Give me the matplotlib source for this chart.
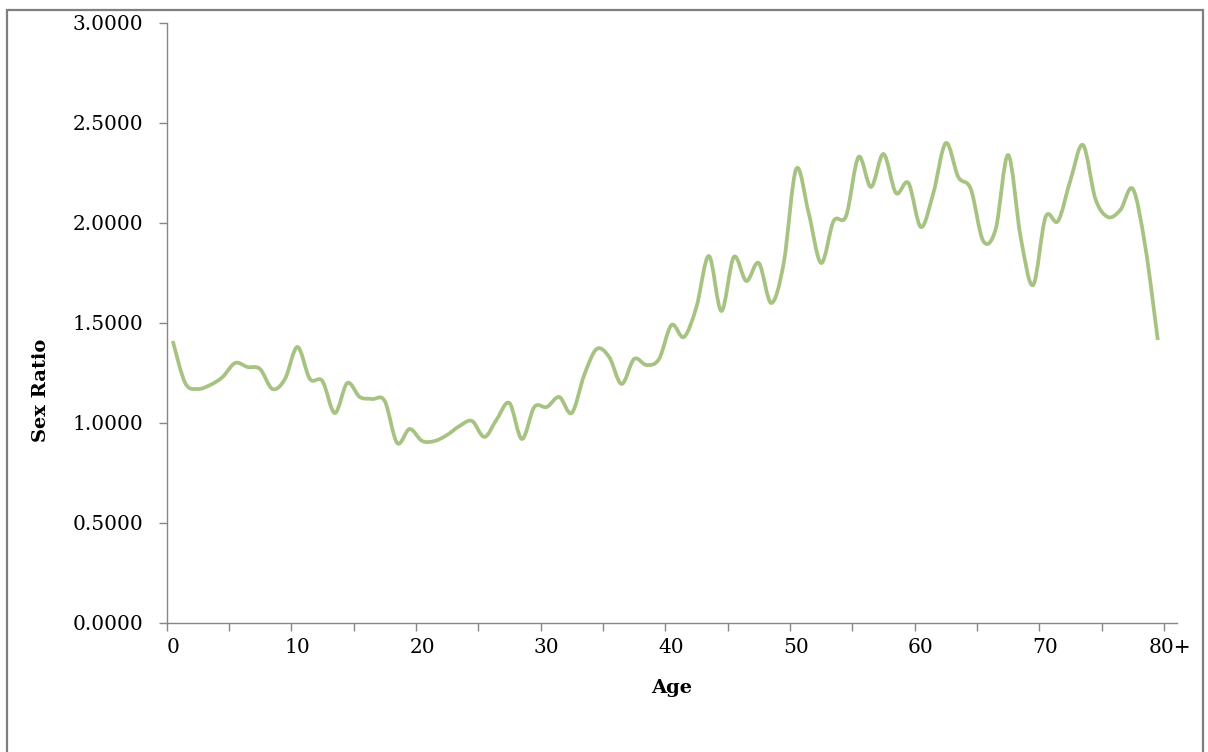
import matplotlib.pyplot as plt
from matplotlib.path import Path
from matplotlib.patches import PathPatch, Rectangle
import numpy as np

# Sex ratio by single year of age (0 .. 79), category "80+" has no point
ages = list(range(80))
sex_ratio = [1.41, 1.20, 1.17, 1.19, 1.23, 1.30, 1.28, 1.27, 1.17, 1.22,
             1.38, 1.22, 1.21, 1.05, 1.20, 1.13, 1.12, 1.11, 0.90, 0.97,
             0.91, 0.91, 0.94, 0.985, 1.01, 0.93, 1.02, 1.10, 0.92, 1.08,
             1.08, 1.13, 1.05, 1.24, 1.37, 1.33, 1.195, 1.32, 1.29, 1.32,
             1.49, 1.43, 1.58, 1.835, 1.56, 1.83, 1.71, 1.80, 1.60, 1.80,
             2.27, 2.05, 1.80, 2.01, 2.035, 2.33, 2.18, 2.345, 2.15, 2.20,
             1.98, 2.15, 2.40, 2.23, 2.17, 1.91, 1.97, 2.34, 1.93, 1.69,
             2.03, 2.01, 2.215, 2.39, 2.12, 2.03, 2.065, 2.17, 1.88, 1.415]

categories = [str(a) for a in range(80)] + ['80+']
label_pos = list(range(0, 81, 10))
label_txt = [categories[p] for p in label_pos]
y_ticks = [0, 0.5, 1.0, 1.5, 2.0, 2.5, 3.0]

plt.rcParams['font.family'] = ['DejaVu Serif']

fig = plt.figure(figsize=(12.08, 7.52), dpi=100)
ax = fig.add_axes([166.5 / 1208, 1 - 623 / 752, 1010 / 1208, 600 / 752])

# Smoothed line (Excel style) built as cubic bezier segments through the data
pts = np.column_stack([ages, sex_ratio]).astype(float)
n = len(pts)
verts = [pts[0]]
codes = [Path.MOVETO]
for i in range(n - 1):
    p_prev = pts[i - 1] if i > 0 else pts[i]
    p_next2 = pts[i + 2] if i + 2 < n else pts[i + 1]
    c1 = pts[i] + (pts[i + 1] - p_prev) / 6
    c2 = pts[i + 1] - (p_next2 - pts[i]) / 6
    verts += [c1, c2, pts[i + 1]]
    codes += [Path.CURVE4] * 3
path = Path(verts, codes)
ax.add_patch(PathPatch(path, facecolor='none', edgecolor='#A6C382',
                       lw=2.7, capstyle='butt', joinstyle='round'))

ax.set_xlim(-0.5, 80.5)
ax.set_ylim(0, 3.0)

# category axis: tick marks between categories every 5, labels every 10
ax.set_xticks(np.arange(-0.5, 80, 5))
ax.set_xticklabels([])
ax.set_xticks(label_pos, minor=True)
ax.set_xticklabels(label_txt, minor=True, fontsize=14.5)
ax.tick_params(axis='x', which='major', direction='out', length=6,
               width=1, color='#868686')
ax.tick_params(axis='x', which='minor', length=0, pad=11)

ax.set_yticks(y_ticks)
ax.set_yticklabels([f'{v:.4f}' for v in y_ticks], fontsize=14.5)
ax.tick_params(axis='y', direction='out', length=6, width=1,
               color='#868686', pad=11)

for s in ['top', 'right']:
    ax.spines[s].set_visible(False)
for s in ['left', 'bottom']:
    ax.spines[s].set_color('#868686')
    ax.spines[s].set_linewidth(1)

ax.set_xlabel('Age', fontsize=14, fontweight='bold')
ax.set_ylabel('Sex Ratio', fontsize=14, fontweight='bold')
ax.xaxis.set_label_coords(0.5, -0.094)
ax.yaxis.set_label_coords(-0.115, 0.388)

# outer chart border
fig.add_artist(Rectangle((7 / 1208, -0.1), 1196 / 1208, 1.1 - 10 / 752,
                         transform=fig.transFigure, fill=False,
                         edgecolor='#7F7F7F', lw=1.6))

fig.savefig('out.png', dpi=100)
